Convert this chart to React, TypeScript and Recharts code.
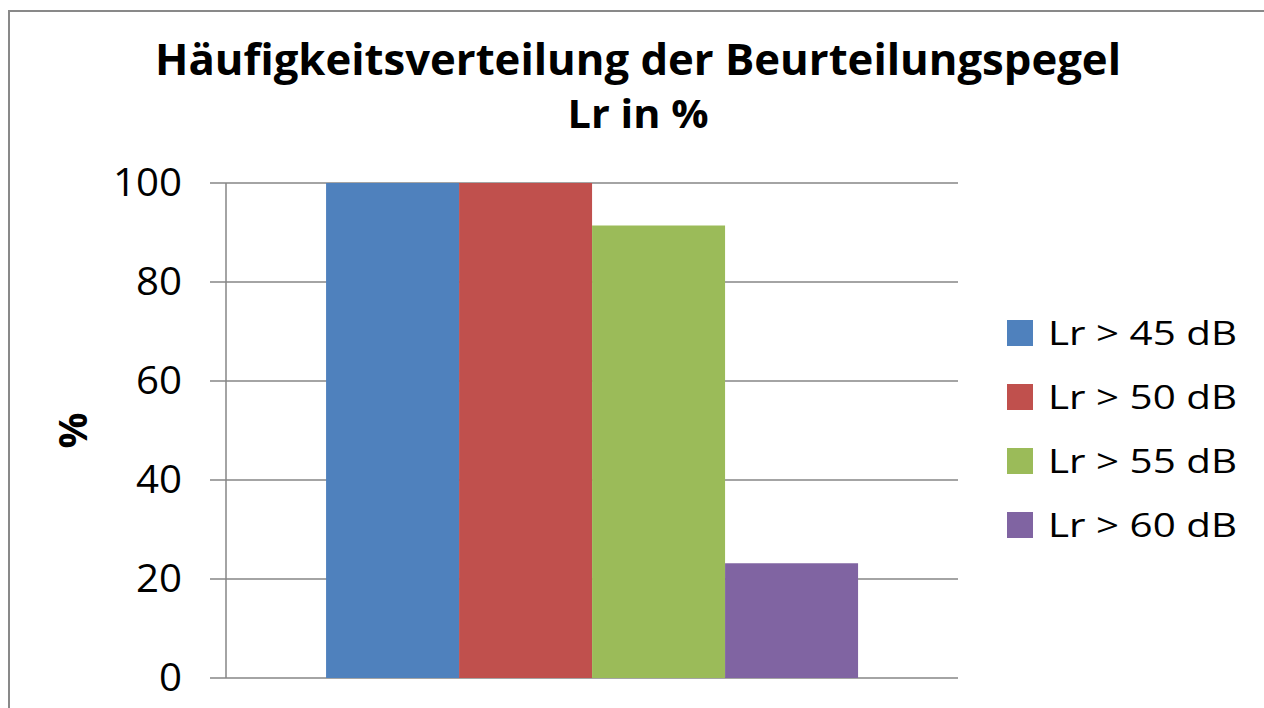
import React from 'react';
import { BarChart, Bar, XAxis, YAxis, CartesianGrid } from 'recharts';

// values
const categories = ['Lr'];
const seriesNames = ['Lr > 45 dB', 'Lr > 50 dB', 'Lr > 55 dB', 'Lr > 60 dB'];
const seriesValues = [100, 100, 91.4, 23.2];
const seriesColors = ['#4F81BD', '#C0504D', '#9BBB59', '#8064A2'];
const yTicks = [0, 20, 40, 60, 80, 100];
const titleLines = ['Häufigkeitsverteilung der Beurteilungspegel', 'Lr in %'];

const data = categories.map((name) => {
  const row: Record<string, string | number> = { name };
  seriesNames.forEach((_, i) => { row['s' + i] = seriesValues[i]; });
  return row;
});

const FONT = '"Open Sans", "DejaVu Sans", sans-serif';
const GRID = '#868686';

// the original font is wide, so stretch the tick labels a bit
const YTick = (props: any) => {
  const { x, y, payload } = props;
  const s = String(payload.value);
  return (
    <text x={x} y={y} dy={13} textAnchor="end" fill="#000" fontFamily={FONT} fontSize={38}
      textLength={s.length * 23} lengthAdjust="spacingAndGlyphs">{s}</text>
  );
};

const App: React.FC = () => {
  return (
    <div style={{ position: 'absolute', left: 0, top: 0, width: 1264, height: 708, overflow: 'hidden', background: '#fff' }}>
      {/* chart frame, cut off at right and bottom */}
      <div style={{ position: 'absolute', left: 8, top: 10, width: 1400, height: 800, border: '2px solid #898989' }} />

      <div style={{ position: 'absolute', left: 0, top: 0 }}>
        <BarChart
          width={1264}
          height={708}
          data={data}
          margin={{ top: 183, right: 306, bottom: 30, left: 0 }}
          barCategoryGap="13.67%"
          barGap={0}
        >
          <CartesianGrid vertical={false} stroke={GRID} strokeWidth={1.5} />
          <XAxis dataKey="name" hide height={0} />
          <XAxis
            xAxisId="edge"
            type="number"
            domain={[0, 1]}
            ticks={[0, 1]}
            height={0}
            axisLine={false}
            tickSize={7}
            tickLine={{ stroke: GRID, strokeWidth: 1.5 }}
            tickFormatter={() => ''}
          />
          <YAxis
            width={226}
            domain={[0, 100]}
            ticks={yTicks}
            interval={0}
            tickSize={16}
            tickMargin={28}
            axisLine={{ stroke: GRID, strokeWidth: 1.5 }}
            tickLine={{ stroke: GRID, strokeWidth: 1.5 }}
            tick={<YTick />}
            label={{ value: '%', angle: -90, position: 'center', dx: -40, fill: '#000', fontSize: 40, fontWeight: 700, fontFamily: FONT }}
          />
          {seriesNames.map((n, i) => (
            <Bar key={n} dataKey={'s' + i} name={n} fill={seriesColors[i]} isAnimationActive={false} />
          ))}
        </BarChart>
      </div>

      <svg width={1264} height={708} style={{ position: 'absolute', left: 0, top: 0, pointerEvents: 'none' }}>
        <text x={638} y={75} textAnchor="middle" fontFamily={FONT} fontWeight={700} fontSize={43}
          textLength={966} lengthAdjust="spacingAndGlyphs">{titleLines[0]}</text>
        <text x={638} y={128} textAnchor="middle" fontFamily={FONT} fontWeight={700} fontSize={40}
          textLength={141} lengthAdjust="spacingAndGlyphs">{titleLines[1]}</text>
        {seriesNames.map((n, i) => (
          <g key={n}>
            <rect x={1007} y={320 + i * 64} width={26} height={26} fill={seriesColors[i]} />
            <text x={1048} y={345 + i * 64} fontFamily={FONT} fontSize={32} fill="#000"
              textLength={189} lengthAdjust="spacingAndGlyphs">{n}</text>
          </g>
        ))}
      </svg>
    </div>
  );
};

export default App;
